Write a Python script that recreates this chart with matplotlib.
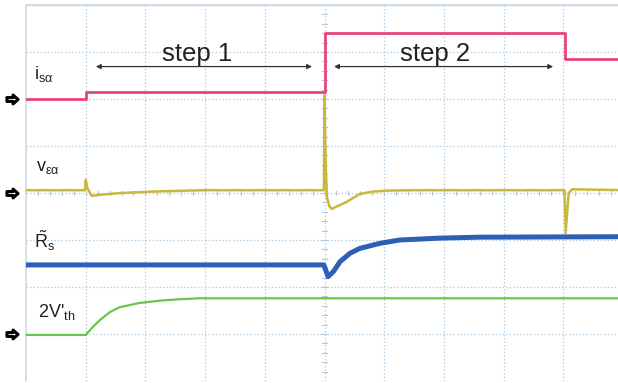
import matplotlib
matplotlib.use("Agg")
import matplotlib.pyplot as plt
from matplotlib.path import Path

plt.rcParams['font.family'] = ['Liberation Sans', 'DejaVu Sans']
plt.rcParams['mathtext.fontset'] = 'custom'
plt.rcParams['mathtext.rm'] = 'Liberation Sans'
plt.rcParams['mathtext.it'] = 'Liberation Sans:italic'
plt.rcParams['mathtext.sf'] = 'Liberation Sans'

# Scope traces: time and amplitude both in screen divisions (10 x 8 grid)
isa_t = [0.0, 1.0, 1.0, 5.0, 5.0, 9.03, 9.03, 10.0]
isa_v = [6.00, 6.00, 6.15, 6.15, 7.40, 7.40, 6.85, 6.85]

vea_t = [0.0, 0.99, 1.0, 1.03, 1.10, 1.30, 1.60, 2.10, 3.00, 4.99,
         5.0, 5.02, 5.04, 5.08, 5.12, 5.20, 5.37, 5.59, 5.81, 6.05, 6.48,
         9.02, 9.04, 9.09, 9.15, 10.0]
vea_v = [4.06, 4.06, 4.28, 4.10, 3.94, 3.97, 4.00, 4.03, 4.06, 4.06,
         6.08, 4.60, 3.92, 3.72, 3.66, 3.71, 3.81, 3.98, 4.03, 4.05, 4.06,
         4.06, 3.15, 4.00, 4.08, 4.06]

rs_t = [0.0, 4.99, 5.06, 5.15, 5.26, 5.43, 5.59, 5.93, 6.26, 6.93, 7.60, 10.0]
rs_v = [2.47, 2.47, 2.22, 2.33, 2.54, 2.72, 2.82, 2.93, 3.00, 3.04, 3.06, 3.07]

vth_t = [0.0, 1.0, 1.12, 1.24, 1.41, 1.57, 1.90, 2.24, 2.58, 2.91, 3.0, 10.0]
vth_v = [0.98, 0.98, 1.15, 1.30, 1.47, 1.57, 1.66, 1.71, 1.74, 1.76, 1.76, 1.76]

ref_levels = [6.0, 4.0, 1.0]

labels = [r"$\mathregular{i_{s\alpha}}$", r"$\mathregular{v_{\varepsilon\alpha}}$",
          r"$\tilde{\mathregular{R}}_\mathregular{s}$", r"2V'$_\mathregular{th}$"]
label_xy = [(0.13, 6.43), (0.17, 4.47), (0.14, 2.83), (0.20, 1.36)]

steps = ["step 1", "step 2"]
step_text_xy = [(2.86, 6.80), (6.85, 6.80)]
step_spans = [(1.17, 4.79), (5.16, 8.83)]
step_arrow_y = 6.69

fig = plt.figure(figsize=(6.18, 3.83), dpi=100)
ax = fig.add_axes([26 / 618, 2 / 383, 597 / 618, 376 / 383])
ax.set_xlim(0, 10)
ax.set_ylim(0, 8)
ax.set_xticks([])
ax.set_yticks([])
for side in ['right', 'bottom']:
    ax.spines[side].set_visible(False)
for side in ['left', 'top']:
    ax.spines[side].set_color('#c9d9e6')
    ax.spines[side].set_linewidth(1.2)

grid_c = '#b3d1e6'
for i in range(1, 10):
    ax.axvline(i, color=grid_c, lw=0.9, ls=(0, (1.2, 1.6)), zorder=1)
for j in range(1, 8):
    ax.axhline(j, color=grid_c, lw=0.9, ls=(0, (1.2, 1.6)), zorder=1)
ax.axhline(8, color='#c9d9e6', lw=1.0, zorder=1)

# minor ticks on the centre cross
for k in range(1, 50):
    x = k * 0.2
    ax.plot([x, x], [3.95, 4.05], color='#b0cadc', lw=0.8, zorder=1)
for k in range(1, 40):
    y = k * 0.2
    ax.plot([4.95, 5.05], [y, y], color='#b0cadc', lw=0.8, zorder=1)

ax.plot(vth_t, vth_v, color='#6cc34c', lw=1.6, zorder=3)
ax.plot(rs_t, rs_v, color='#2d5fb4', lw=3.6, zorder=4, solid_joinstyle='round')
ax.plot(vea_t, vea_v, color='#c9b83e', lw=1.8, zorder=5)
ax.plot(isa_t, isa_v, color='#e8437c', lw=2.0, zorder=6)

# ground reference markers
arrow_marker = Path([(-1.0, -0.35), (0.1, -0.35), (0.1, -0.8), (1.0, 0.0),
                     (0.1, 0.8), (0.1, 0.35), (-1.0, 0.35), (-1.0, -0.35)],
                    [Path.MOVETO] + [Path.LINETO] * 6 + [Path.CLOSEPOLY])
for lv in ref_levels:
    ax.plot([-0.23], [lv], marker=arrow_marker, ms=8, mfc='white', mec='black',
            mew=2.2, clip_on=False, zorder=7)

for txt, (x, y) in zip(labels, label_xy):
    ax.text(x, y, txt, fontsize=13, color='#222222', va='baseline', ha='left', zorder=8)

for txt, (x, y) in zip(steps, step_text_xy):
    ax.text(x, y, txt, fontsize=18.5, color='#222222', va='baseline', ha='center', zorder=8)

for x0, x1 in step_spans:
    ax.annotate('', xy=(x0, step_arrow_y), xytext=(x1, step_arrow_y),
                arrowprops=dict(arrowstyle='<|-|>', color='#333333', lw=0.9,
                                mutation_scale=7, shrinkA=0, shrinkB=0), zorder=8)

fig.savefig('out.png', dpi=100)
